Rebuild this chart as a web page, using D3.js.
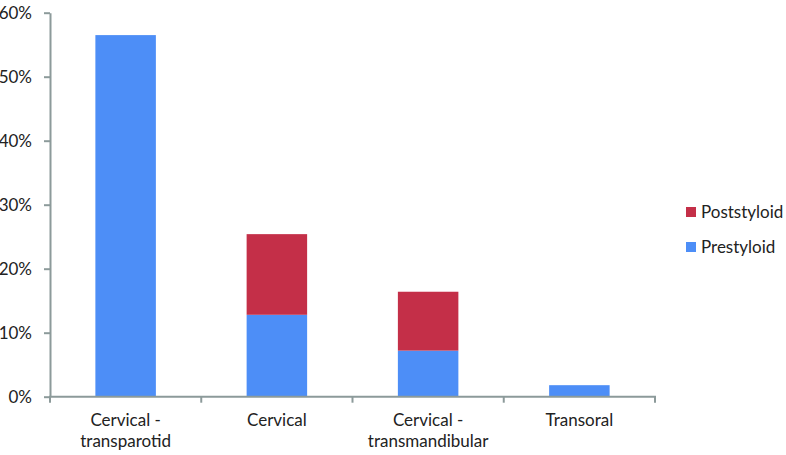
<!DOCTYPE html>
<html><head><meta charset="utf-8">
<script src="https://cdn.jsdelivr.net/npm/d3@7"></script>
<style>body{margin:0;background:#fff}svg{display:block}text{font-family:Lato,"Open Sans",sans-serif;fill:#222}</style>
</head><body><svg id="c" width="786" height="455"></svg>
<script>
const categories = [["Cervical -","transparotid"],["Cervical"],["Cervical -","transmandibular"],["Transoral"]];
const catKeys = ["Cervical - transparotid","Cervical","Cervical - transmandibular","Transoral"];
const prestyloid = [56.5, 12.8, 7.2, 1.8];
const poststyloid = [0, 12.6, 9.2, 0];
const seriesNames = ["Prestyloid","Poststyloid"];
const colors = ["#4d8ef7","#c42f48"];
const yTicks = [0,10,20,30,40,50,60];

const svg = d3.select("#c");
const x = d3.scaleBand().domain(catKeys).range([50,655]).paddingInner(0.6).paddingOuter(0.3);
const y = d3.scaleLinear().domain([0,60]).range([396.7,12.7]);

const rows = catKeys.map((k,i)=>({key:k, Prestyloid:prestyloid[i], Poststyloid:poststyloid[i]}));
const stack = d3.stack().keys(seriesNames)(rows);

svg.append("g").selectAll("g").data(stack).join("g").attr("fill",(d,i)=>colors[i])
 .selectAll("rect").data(d=>d.filter(p=>p[1]-p[0]>0)).join("rect")
 .attr("x",d=>x(d.data.key)).attr("width",x.bandwidth())
 .attr("y",d=>y(d[1])).attr("height",d=>y(d[0])-y(d[1]));

const axisColor = "#8c9a9a";
const fs = "17px";
// y axis
const ya = svg.append("g").attr("transform","translate(50,0)")
 .call(d3.axisLeft(y).tickValues(yTicks).tickFormat(d=>d+"%").tickSize(6).tickSizeOuter(0).tickPadding(12));
ya.select(".domain").attr("stroke",axisColor).attr("stroke-width",2);
ya.selectAll(".tick line").attr("stroke",axisColor).attr("stroke-width",2);
ya.selectAll(".tick text").style("font-size",fs).attr("fill","#222");

// x axis line with boundary ticks
const xa = svg.append("g");
xa.append("line").attr("x1",49).attr("x2",656).attr("y1",y(0)).attr("y2",y(0)).attr("stroke",axisColor).attr("stroke-width",2);
const bounds = catKeys.map(k=>x(k)-x.step()*x.paddingInner()/2).concat([655]);
bounds[0]=50;
xa.selectAll("line.t").data(bounds).join("line").attr("class","t")
 .attr("x1",d=>d).attr("x2",d=>d).attr("y1",y(0)).attr("y2",y(0)+6).attr("stroke",axisColor).attr("stroke-width",2);
const lbl = xa.selectAll("text.c").data(categories).join("text").attr("class","c")
 .attr("x",(d,i)=>x(catKeys[i])+x.bandwidth()/2).attr("y",426).attr("text-anchor","middle").style("font-size",fs);
lbl.selectAll("tspan").data(d=>d).join("tspan").attr("x",function(){return this.parentNode.getAttribute("x");})
 .attr("dy",(d,i)=>i===0?0:21).text(d=>d);

// legend
const legItems = [{n:"Poststyloid",c:colors[1]},{n:"Prestyloid",c:colors[0]}];
const lg = svg.append("g").selectAll("g").data(legItems).join("g").attr("transform",(d,i)=>`translate(686,${207+i*35})`);
lg.append("rect").attr("width",10).attr("height",10).attr("fill",d=>d.c);
lg.append("text").attr("x",15).attr("y",11).style("font-size",fs).text(d=>d.n);
</script></body></html>
